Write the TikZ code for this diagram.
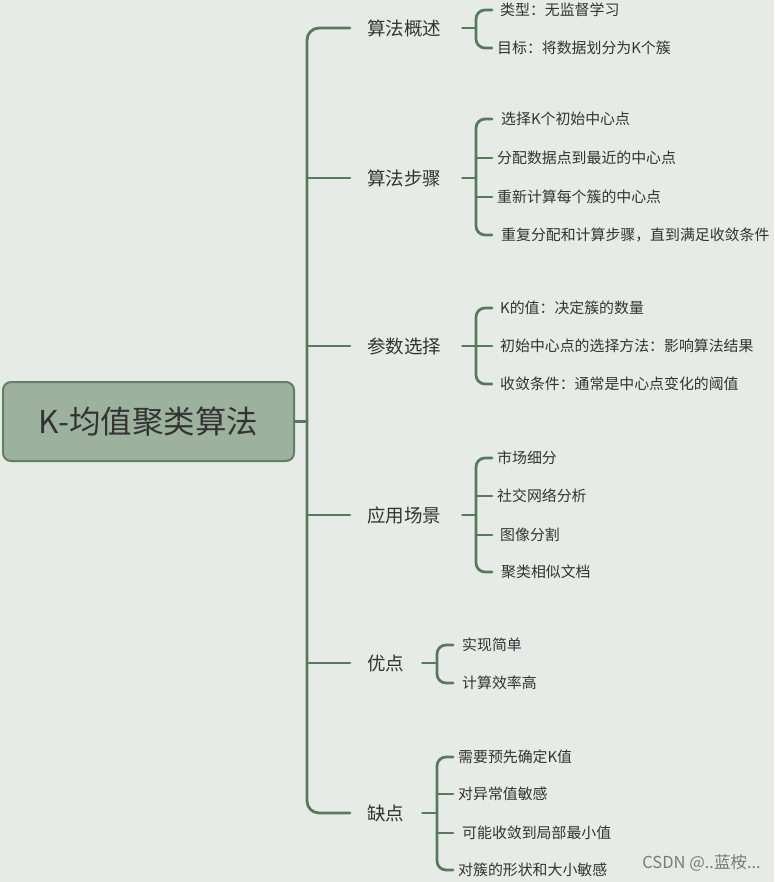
\documentclass[tikz,border=0pt]{standalone}
\usepackage{fontspec}
\setmainfont{Noto Sans CJK SC}
\definecolor{bgc}{HTML}{E6EBE7}
\definecolor{lc}{HTML}{587A5C}
\definecolor{rootfill}{HTML}{9CB29F}
\definecolor{rootline}{HTML}{647F67}
\definecolor{tc}{HTML}{333333}
\definecolor{wmc}{HTML}{7A7A7A}
\begin{document}
\begin{tikzpicture}[x=1pt,y=-1pt,
  br/.style={draw=lc, line width=2.8pt, line cap=round},
  lone/.style={anchor=west, inner sep=0pt, font=\fontsize{18.5}{20}\selectfont, text=tc},
  ltwo/.style={anchor=west, inner sep=0pt, font=\fontsize{14.9}{16}\selectfont, text=tc},
  rootbox/.style={draw=rootline, fill=rootfill, line width=2pt, rounded corners=8pt,
    minimum width=291pt, minimum height=79pt, font=\fontsize{31.5}{34}\selectfont, text=tc}
]
\fill[bgc] (0,0) rectangle (774,882);
\useasboundingbox (0,0) rectangle (774,882);

% root
\node[rootbox] (root) at (148.5,421.5) {K-均值聚类算法};
\coordinate (T) at (307,421.5);

% level 1
\node[lone] (a1) at (367,28) {算法概述};
\node[lone] (a2) at (367,178) {算法步骤};
\node[lone] (a3) at (367,346) {参数选择};
\node[lone] (a4) at (367,515) {应用场景};
\node[lone] (a5) at (367,663) {优点};
\node[lone] (a6) at (367,813) {缺点};

% level 2
\node[ltwo] (c11) at (500,10) {类型：无监督学习};
\node[ltwo] (c12) at (497,48) {目标：将数据划分为K个簇};

\node[ltwo] (c21) at (501,119) {选择K个初始中心点};
\node[ltwo] (c22) at (497,158) {分配数据点到最近的中心点};
\node[ltwo] (c23) at (497,197) {重新计算每个簇的中心点};
\node[ltwo] (c24) at (501,235) {重复分配和计算步骤，直到满足收敛条件};

\node[ltwo] (c31) at (500,308) {K的值：决定簇的数量};
\node[ltwo] (c32) at (500,346) {初始中心点的选择方法：影响算法结果};
\node[ltwo] (c33) at (500,384) {收敛条件：通常是中心点变化的阈值};

\node[ltwo] (c41) at (497,458) {市场细分};
\node[ltwo] (c42) at (497,496) {社交网络分析};
\node[ltwo] (c43) at (500,535) {图像分割};
\node[ltwo] (c44) at (501,572) {聚类相似文档};

\node[ltwo] (c51) at (462,645) {实现简单};
\node[ltwo] (c52) at (462,683) {计算效率高};

\node[ltwo] (c61) at (458,757) {需要预先确定K值};
\node[ltwo] (c62) at (458,794) {对异常值敏感};
\node[ltwo] (c63) at (462,833) {可能收敛到局部最小值};
\node[ltwo] (c64) at (458,870) {对簇的形状和大小敏感};

% trunk
\draw[br] (root.east) -- (T);
\draw[br, rounded corners=12pt] ([xshift=-17pt]a1.west) -| (T |- a6.west) -- ([xshift=-17pt]a6.west);
\foreach \n in {a2,a3,a4,a5}{
  \draw[br] (T |- \n.west) -- ([xshift=-17pt]\n.west);
}

% brackets
\coordinate (b1) at (476,28);
\coordinate (b2) at (476,178);
\coordinate (b3) at (476,346);
\coordinate (b4) at (476,515);
\coordinate (b5) at (437,663);
\coordinate (b6) at (437,813);

\draw[br] ([xshift=21pt]a1.east) -- (b1);
\draw[br, rounded corners=9pt] ([xshift=16pt]b1 |- c11.west) -| (b1 |- c12.west) -- ([xshift=16pt]b1 |- c12.west);

\draw[br] ([xshift=21pt]a2.east) -- (b2);
\draw[br, rounded corners=9pt] ([xshift=16pt]b2 |- c21.west) -| (b2 |- c24.west) -- ([xshift=16pt]b2 |- c24.west);
\foreach \n in {c22,c23}{ \draw[br] (b2 |- \n.west) -- ([xshift=16pt]b2 |- \n.west); }

\draw[br] ([xshift=21pt]a3.east) -- (b3);
\draw[br, rounded corners=9pt] ([xshift=16pt]b3 |- c31.west) -| (b3 |- c33.west) -- ([xshift=16pt]b3 |- c33.west);
\draw[br] (b3 |- c32.west) -- ([xshift=16pt]b3 |- c32.west);

\draw[br] ([xshift=21pt]a4.east) -- (b4);
\draw[br, rounded corners=9pt] ([xshift=16pt]b4 |- c41.west) -| (b4 |- c44.west) -- ([xshift=16pt]b4 |- c44.west);
\foreach \n in {c42,c43}{ \draw[br] (b4 |- \n.west) -- ([xshift=16pt]b4 |- \n.west); }

\draw[br] ([xshift=18pt]a5.east) -- (b5);
\draw[br, rounded corners=9pt] ([xshift=16pt]b5 |- c51.west) -| (b5 |- c52.west) -- ([xshift=16pt]b5 |- c52.west);

\draw[br] ([xshift=18pt]a6.east) -- (b6);
\draw[br, rounded corners=9pt] ([xshift=16pt]b6 |- c61.west) -| (b6 |- c64.west) -- ([xshift=16pt]b6 |- c64.west);
\foreach \n in {c62,c63}{ \draw[br] (b6 |- \n.west) -- ([xshift=16pt]b6 |- \n.west); }

% watermark
\node[anchor=east, inner sep=0pt, font=\fontsize{16.5}{18}\selectfont, text=wmc] (wm) at (761,863) {CSDN @..蓝桉...};
\end{tikzpicture}
\end{document}
